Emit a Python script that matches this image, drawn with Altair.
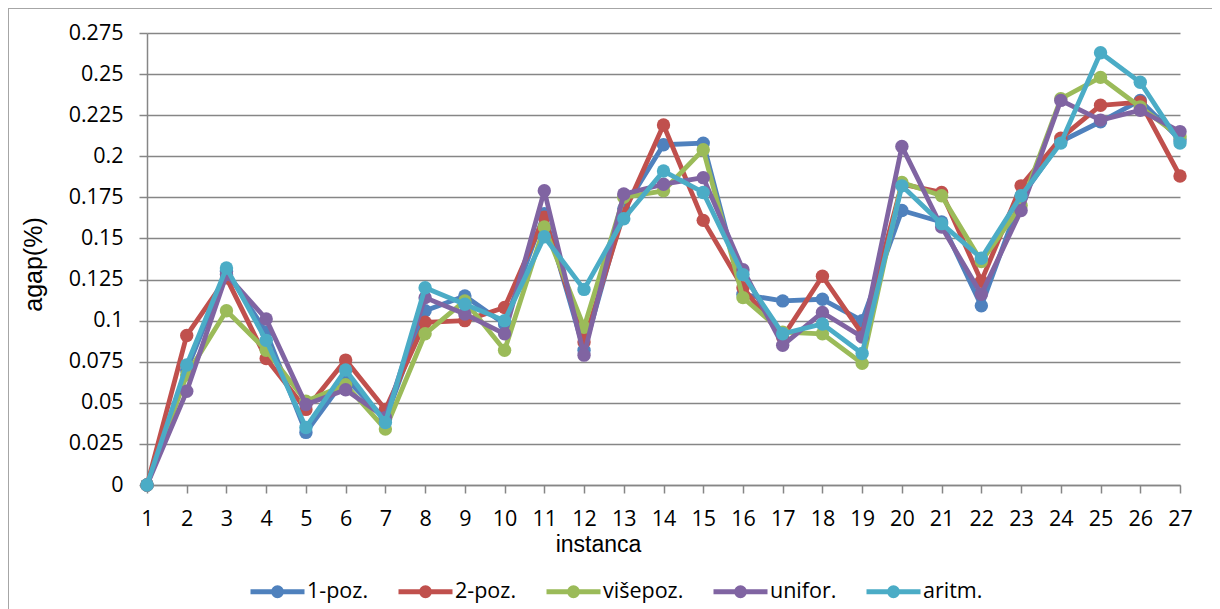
import altair as alt
import pandas as pd

# ---- data ----
instances = list(range(1, 28))
series_names = ["1-poz.", "2-poz.", "višepoz.", "unifor.", "aritm."]
series_colors = ["#4F81BD", "#C0504D", "#9BBB59", "#8064A2", "#4BACC6"]

poz1 = [0, 0.070, 0.130, 0.093, 0.032, 0.065, 0.040, 0.106, 0.115, 0.098,
        0.165, 0.082, 0.168, 0.207, 0.208, 0.116, 0.112, 0.113, 0.100, 0.167,
        0.160, 0.109, 0.175, 0.209, 0.221, 0.234, 0.210]
poz2 = [0, 0.091, 0.126, 0.077, 0.046, 0.076, 0.046, 0.099, 0.100, 0.108,
        0.163, 0.087, 0.165, 0.219, 0.161, 0.120, 0.090, 0.127, 0.092, 0.183,
        0.178, 0.124, 0.182, 0.211, 0.231, 0.233, 0.188]
visepoz = [0, 0.067, 0.106, 0.082, 0.051, 0.061, 0.034, 0.092, 0.112, 0.082,
           0.157, 0.096, 0.175, 0.179, 0.204, 0.114, 0.093, 0.092, 0.074, 0.184,
           0.176, 0.136, 0.170, 0.235, 0.248, 0.230, 0.212]
unifor = [0, 0.057, 0.128, 0.101, 0.049, 0.058, 0.041, 0.114, 0.104, 0.092,
          0.179, 0.079, 0.177, 0.183, 0.187, 0.131, 0.085, 0.105, 0.090, 0.206,
          0.157, 0.116, 0.167, 0.234, 0.222, 0.228, 0.215]
aritm = [0, 0.073, 0.132, 0.088, 0.035, 0.070, 0.038, 0.120, 0.110, 0.100,
         0.151, 0.119, 0.162, 0.191, 0.178, 0.128, 0.092, 0.098, 0.080, 0.182,
         0.159, 0.138, 0.176, 0.208, 0.263, 0.245, 0.208]

y_ticks = [0, 0.025, 0.05, 0.075, 0.1, 0.125, 0.15, 0.175, 0.2, 0.225, 0.25, 0.275]

all_values = [poz1, poz2, visepoz, unifor, aritm]
rows = []
for name, vals in zip(series_names, all_values):
    for inst, v in zip(instances, vals):
        rows.append({"instanca": inst, "agap": v, "serija": name})
df = pd.DataFrame(rows)

# legend symbol: line with a filled dot (two stroked rings fill the dot)
legend_symbol = ("M-1,0H1"
                 "M0.0926,0A0.0926,0.0926,0,1,1,-0.0926,0A0.0926,0.0926,0,1,1,0.0926,0"
                 "M0.148,0A0.148,0.148,0,1,1,-0.148,0A0.148,0.148,0,1,1,0.148,0")

color_enc = alt.Color(
    "serija:N",
    scale=alt.Scale(domain=series_names, range=series_colors),
    legend=alt.Legend(
        title=None,
        orient="none",
        direction="horizontal",
        legendX=101,
        legendY=529,
        padding=0,
        symbolType=legend_symbol,
        symbolSize=2916,
        symbolStrokeWidth=5,
        symbolOpacity=1,
        labelFont="Open Sans",
        labelFontSize=21.5,
        labelColor="#000000",
        labelOffset=0,
        columnPadding=19,
    ),
)

x_enc = alt.X(
    "instanca:Q",
    scale=alt.Scale(domain=[1, 27], nice=False, zero=False),
    axis=alt.Axis(
        title="instanca",
        values=instances,
        format="d",
        grid=False,
        domainColor="#868686",
        domainWidth=1.5,
        tickColor="#868686",
        tickWidth=1.5,
        tickSize=8,
        labelFont="Open Sans",
        labelFontSize=21.5,
        labelColor="#000000",
        labelPadding=15,
        labelFlush=False,
        titleFont="Liberation Sans",
        titleFontSize=23,
        titleFontWeight="normal",
        titleColor="#000000",
        titleAnchor="start",
        titleAlign="center",
        titleBaseline="alphabetic",
        titleX=451,
        titleY=66,
    ),
)

y_enc = alt.Y(
    "agap:Q",
    scale=alt.Scale(domain=[0, 0.275], nice=False),
    axis=alt.Axis(
        title="agap(%)",
        values=y_ticks,
        labelExpr="'' + datum.value",
        grid=True,
        gridColor="#868686",
        gridWidth=1.5,
        domainColor="#868686",
        domainWidth=1.5,
        tickColor="#868686",
        tickWidth=1.5,
        tickSize=8,
        labelFont="Open Sans",
        labelFontSize=21.5,
        labelColor="#000000",
        labelPadding=16,
        labelFlush=False,
        titleFont="Liberation Sans",
        titleFontSize=25,
        titleFontWeight="normal",
        titleColor="#000000",
        titleAngle=-90,
        titleAlign="center",
        titleBaseline="middle",
        titleAnchor="start",
        titleX=-114,
        titleY=231,
    ),
)

layers = []
for name in series_names:
    base = alt.Chart(df).transform_filter(alt.datum.serija == name)
    line = base.mark_line(strokeWidth=4.8, strokeCap="round", strokeJoin="round").encode(
        x=x_enc, y=y_enc, color=color_enc
    )
    pts = base.mark_point(filled=True, size=180, opacity=1, strokeWidth=0).encode(
        x=x_enc, y=y_enc, color=color_enc
    )
    layers += [line, pts]

frame_df = pd.DataFrame({"k": [0]})
left_border = alt.Chart(frame_df).mark_rule(color="#a6a6a6", strokeWidth=1).encode(
    x=alt.value(-138.5), y=alt.value(-25), y2=alt.value(600)
)
top_border = alt.Chart(frame_df).mark_rule(color="#a6a6a6", strokeWidth=1).encode(
    x=alt.value(-139), x2=alt.value(1065), y=alt.value(-24.5)
)

chart = alt.layer(left_border, top_border, *layers).properties(
    width=1033,
    height=452,
    autosize=alt.AutoSizeParams(type="none"),
    padding={"left": 139, "top": 25, "right": 32, "bottom": 124},
    background="white",
).configure_view(stroke=None)

chart.save("out.html", embed_options={"renderer": "svg", "actions": False})
